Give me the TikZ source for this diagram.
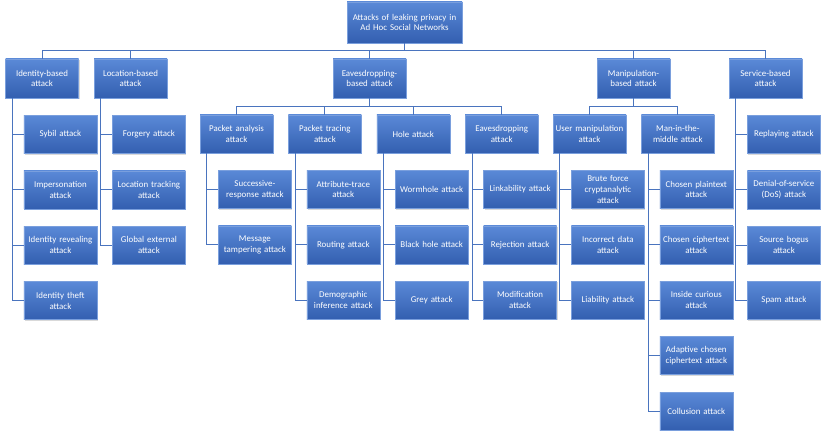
\documentclass[tikz,border=0pt]{standalone}
\usepackage{fontspec}
\setmainfont{Carlito}
\usetikzlibrary{positioning,shadows}
\definecolor{boxtop}{HTML}{5A89D7}
\definecolor{boxbot}{HTML}{335FB0}
\definecolor{boxline}{HTML}{7A9FDD}
\definecolor{conncol}{HTML}{4A74BE}

\begin{document}
\begin{tikzpicture}[
  x=1pt, y=-1pt,
  node distance=17pt and 15pt,
  box/.style={draw=boxline, line width=0.4pt, top color=boxtop, bottom color=boxbot, minimum width=73pt, minimum height=38pt, text width=72pt, inner sep=0.5pt, align=center, text=white, font=\fontsize{8.9}{10.8}\selectfont, drop shadow={shadow xshift=1pt, shadow yshift=-1.2pt, opacity=0.3}},
  head/.style={box, minimum height=39pt},
  conn/.style={draw=conncol, line width=0.9pt}
]
  \useasboundingbox (0,0) rectangle (831,436);

  \node[box, minimum width=115pt, minimum height=41pt, text width=113pt] (root) at (404.5,22.5) {Attacks of leaking privacy in\\ Ad Hoc Social Networks};

  \node[head] (idb) at (42,78.5) {Identity-based\\ attack};
  \node[head] (lob) at (130.5,78.5) {Location-based\\ attack};
  \node[head] (eab) at (369.5,78.5) {Eavesdropping-\\ based attack};
  \node[head] (mab) at (633.5,78.5) {Manipulation-\\ based attack};
  \node[head] (seb) at (765.5,78.5) {Service-based\\ attack};

  \node[box, below right=17pt and -55pt of idb] (sybil) {Sybil attack};
  \node[box, below=of sybil] (imper) {Impersonation\\ attack};
  \node[box, below=of imper] (idrev) {Identity revealing\\ attack};
  \node[box, below=of idrev] (idtheft) {Identity theft\\ attack};

  \node[box, below right=17pt and -55pt of lob] (forg) {Forgery attack};
  \node[box, below=of forg] (loctr) {Location tracking\\ attack};
  \node[box, below=of loctr] (globx) {Global external\\ attack};

  \node[box] (pkan) at (236.5,134) {Packet analysis\\ attack};
  \node[box, right=of pkan] (pktr) {Packet tracing\\ attack};
  \node[box, right=of pktr] (hole) {Hole attack};
  \node[box, right=of hole] (eavs) {Eavesdropping\\ attack};

  \node[box, below right=17pt and -55pt of pkan] (succ) {Successive-\\ response attack};
  \node[box, below=of succ] (msgt) {Message\\ tampering attack};

  \node[box, below right=17pt and -55pt of pktr] (attr) {Attribute-trace\\ attack};
  \node[box, below=of attr] (rout) {Routing attack};
  \node[box, below=of rout] (demo) {Demographic\\ inference attack};

  \node[box, below right=17pt and -55pt of hole] (worm) {Wormhole attack};
  \node[box, below=of worm] (black) {Black hole attack};
  \node[box, below=of black] (grey) {Grey attack};

  \node[box, below right=17pt and -55pt of eavs] (link) {Linkability attack};
  \node[box, below=of link] (rejc) {Rejection attack};
  \node[box, below=of rejc] (modif) {Modification\\ attack};

  \node[box] (usrm) at (589.5,134) {User manipulation\\ attack};
  \node[box, right=of usrm] (mitm) {Man-in-the-\\ middle attack};

  \node[box, below right=17pt and -55pt of usrm] (brute) {Brute force\\ cryptanalytic\\ attack};
  \node[box, below=of brute] (incor) {Incorrect data\\ attack};
  \node[box, below=of incor] (liab) {Liability attack};

  \node[box, below right=17pt and -55pt of mitm] (cplain) {Chosen plaintext\\ attack};
  \node[box, below=of cplain] (cciph) {Chosen ciphertext\\ attack};
  \node[box, below=of cciph] (curious) {Inside curious\\ attack};
  \node[box, below=of curious] (adapt) {Adaptive chosen\\ ciphertext attack};
  \node[box, below=of adapt] (collu) {Collusion attack};

  \node[box, below right=17pt and -55pt of seb] (replay) {Replaying attack};
  \node[box, below=of replay] (dos) {Denial-of-service\\ (DoS) attack};
  \node[box, below=of dos] (bogus) {Source bogus\\ attack};
  \node[box, below=of bogus] (spam) {Spam attack};

  \foreach \n in {idb,lob,eab,mab,seb}
    \draw[conn] (root.south) -- ++(0,7.5) -| (\n.north);
  \foreach \n in {pkan,pktr,hole,eavs}
    \draw[conn] (eab.south) -- ++(0,8) -| (\n.north);
  \foreach \n in {usrm,mitm}
    \draw[conn] (mab.south) -- ++(0,8) -| (\n.north);

  \foreach \p/\cs in {idb/{sybil,imper,idrev,idtheft}, lob/{forg,loctr,globx},
      pkan/{succ,msgt}, pktr/{attr,rout,demo}, hole/{worm,black,grey},
      eavs/{link,rejc,modif}, usrm/{brute,incor,liab},
      mitm/{cplain,cciph,curious,adapt,collu}, seb/{replay,dos,bogus,spam}}
    \foreach \c in \cs
      \draw[conn] ([xshift=7pt]\p.south west) |- (\c.west);
\end{tikzpicture}
\end{document}
